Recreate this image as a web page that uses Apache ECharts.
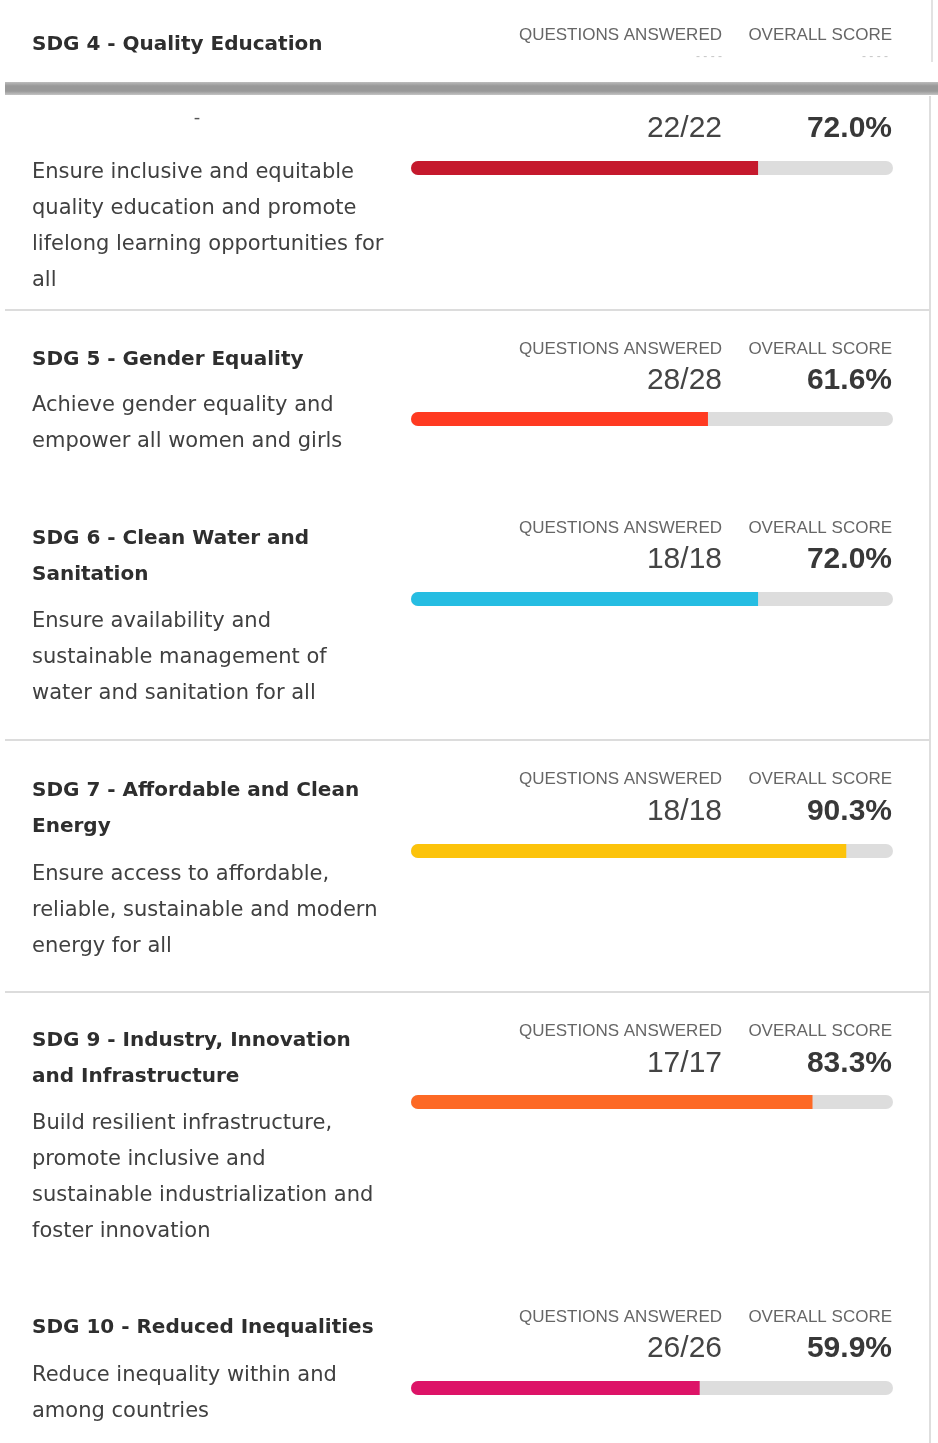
<!DOCTYPE html>
<html>
<head>
<meta charset="utf-8">
<title>SDG scores</title>
<script src="https://cdn.jsdelivr.net/npm/echarts@6/dist/echarts.min.js"></script>
<style>
  html, body { margin: 0; padding: 0; background: #fff; }
  #main { width: 938px; height: 1443px; }
</style>
</head>
<body>
<div id="main"></div>
<script type="text/javascript">
// goals shown, top to bottom
var goalTitles = [
  'SDG 4 - Quality Education',
  'SDG 5 - Gender Equality',
  'SDG 6 - Clean Water and\nSanitation',
  'SDG 7 - Affordable and Clean\nEnergy',
  'SDG 9 - Industry, Innovation\nand Infrastructure',
  'SDG 10 - Reduced Inequalities'
];
var goalTexts = [
  'Ensure inclusive and equitable\nquality education and promote\nlifelong learning opportunities for\nall',
  'Achieve gender equality and\nempower all women and girls',
  'Ensure availability and\nsustainable management of\nwater and sanitation for all',
  'Ensure access to affordable,\nreliable, sustainable and modern\nenergy for all',
  'Build resilient infrastructure,\npromote inclusive and\nsustainable industrialization and\nfoster innovation',
  'Reduce inequality within and\namong countries'
];
var answered = [22, 28, 18, 18, 17, 26];
var totals = [22, 28, 18, 18, 17, 26];
var scores = [72.0, 61.6, 72.0, 90.3, 83.3, 59.9];
var goalColors = ['#c5192d', '#ff3a21', '#26bde2', '#fcc30b', '#fd6925', '#dd1367'];

// layout of each row (y centres)
var titleY  = [45, 360, 539, 791, 1041, 1328];
var headY   = [35, 349, 528, 779, 1031, 1317];
var numY    = [129, 381, 560, 812, 1064, 1349];
var barY    = [168, 419, 599, 851, 1102, 1388];
var textY   = [173, 406, 622, 875, 1124, 1376];

var barLeft = 411, barRight = 45, barH = 14;
var lineH = 36;

var grids = [], xAxes = [], yAxes = [], series = [], graphics = [];

// card frames
graphics.push({ type: 'rect', shape: { x: 5, y: 82, width: 933, height: 13 },
  style: { fill: new echarts.graphic.LinearGradient(0, 0, 0, 1, [
    { offset: 0, color: '#bdbdbd' }, { offset: 0.3, color: '#999' },
    { offset: 0.7, color: '#999' }, { offset: 1, color: '#c4c4c4' }]) }, z: 1 });
graphics.push({ type: 'line', shape: { x1: 932, y1: 0, x2: 932, y2: 62 },
  style: { stroke: '#e2e2e2', lineWidth: 2 } });
graphics.push({ type: 'line', shape: { x1: 930, y1: 96, x2: 930, y2: 1443 },
  style: { stroke: '#dedede', lineWidth: 2 } });
[310, 740, 992].forEach(function (y) {
  graphics.push({ type: 'line', shape: { x1: 5, y1: y, x2: 930, y2: y },
    style: { stroke: '#dcdcdc', lineWidth: 2 } });
});

// faint dashes under the sticky header
graphics.push({ type: 'text', x: 722, y: 57, style: { text: '- - - -', align: 'right', verticalAlign: 'middle',
  font: '12px "Liberation Sans"', fill: '#c8c8c8' } });
graphics.push({ type: 'text', x: 888, y: 57, style: { text: '- - - -', align: 'right', verticalAlign: 'middle',
  font: '12px "Liberation Sans"', fill: '#c8c8c8' } });
graphics.push({ type: 'text', x: 197, y: 118, style: { text: '-', align: 'center', verticalAlign: 'middle',
  font: '18px "DejaVu Sans"', fill: '#555' } });

for (var i = 0; i < scores.length; i++) {
  grids.push({ left: barLeft, right: barRight, top: barY[i] - barH / 2, height: barH });
  xAxes.push({ type: 'value', gridIndex: i, min: 0, max: 100, show: false });
  yAxes.push({ type: 'category', gridIndex: i, data: [goalTitles[i]], show: false });
  series.push({
    type: 'bar', xAxisIndex: i, yAxisIndex: i,
    data: [scores[i]], barWidth: barH, silent: true,
    itemStyle: { color: goalColors[i], borderRadius: [barH / 2, 0, 0, barH / 2] },
    showBackground: true,
    backgroundStyle: { color: '#dddddd', borderRadius: barH / 2 }
  });

  graphics.push({ type: 'text', x: 32, y: titleY[i] - lineH / 2,
    style: { text: goalTitles[i], font: 'bold 20px "DejaVu Sans"', fill: '#2e2e2e', lineHeight: lineH, verticalAlign: 'top' } });
  graphics.push({ type: 'text', x: 32, y: textY[i] - lineH / 2,
    style: { text: goalTexts[i], font: '21px "DejaVu Sans"', fill: '#404040', lineHeight: lineH, verticalAlign: 'top' } });
  graphics.push({ type: 'text', x: 722, y: headY[i],
    style: { text: 'QUESTIONS ANSWERED', font: '17px "Liberation Sans"', fill: '#666', align: 'right', verticalAlign: 'middle' } });
  graphics.push({ type: 'text', x: 892, y: headY[i],
    style: { text: 'OVERALL SCORE', font: '17px "Liberation Sans"', fill: '#666', align: 'right', verticalAlign: 'middle' } });
  graphics.push({ type: 'text', x: 722, y: numY[i],
    style: { text: answered[i] + '/' + totals[i], font: '30px "Liberation Sans"', fill: '#444', align: 'right', verticalAlign: 'middle' } });
  graphics.push({ type: 'text', x: 892, y: numY[i],
    style: { text: scores[i].toFixed(1) + '%', font: 'bold 30px "Liberation Sans"', fill: '#383838', align: 'right', verticalAlign: 'middle' } });
}

var myChart = echarts.init(document.getElementById('main'));
myChart.setOption({
  backgroundColor: '#ffffff',
  animation: false,
  grid: grids,
  xAxis: xAxes,
  yAxis: yAxes,
  series: series,
  graphic: graphics
});
</script>
</body>
</html>
